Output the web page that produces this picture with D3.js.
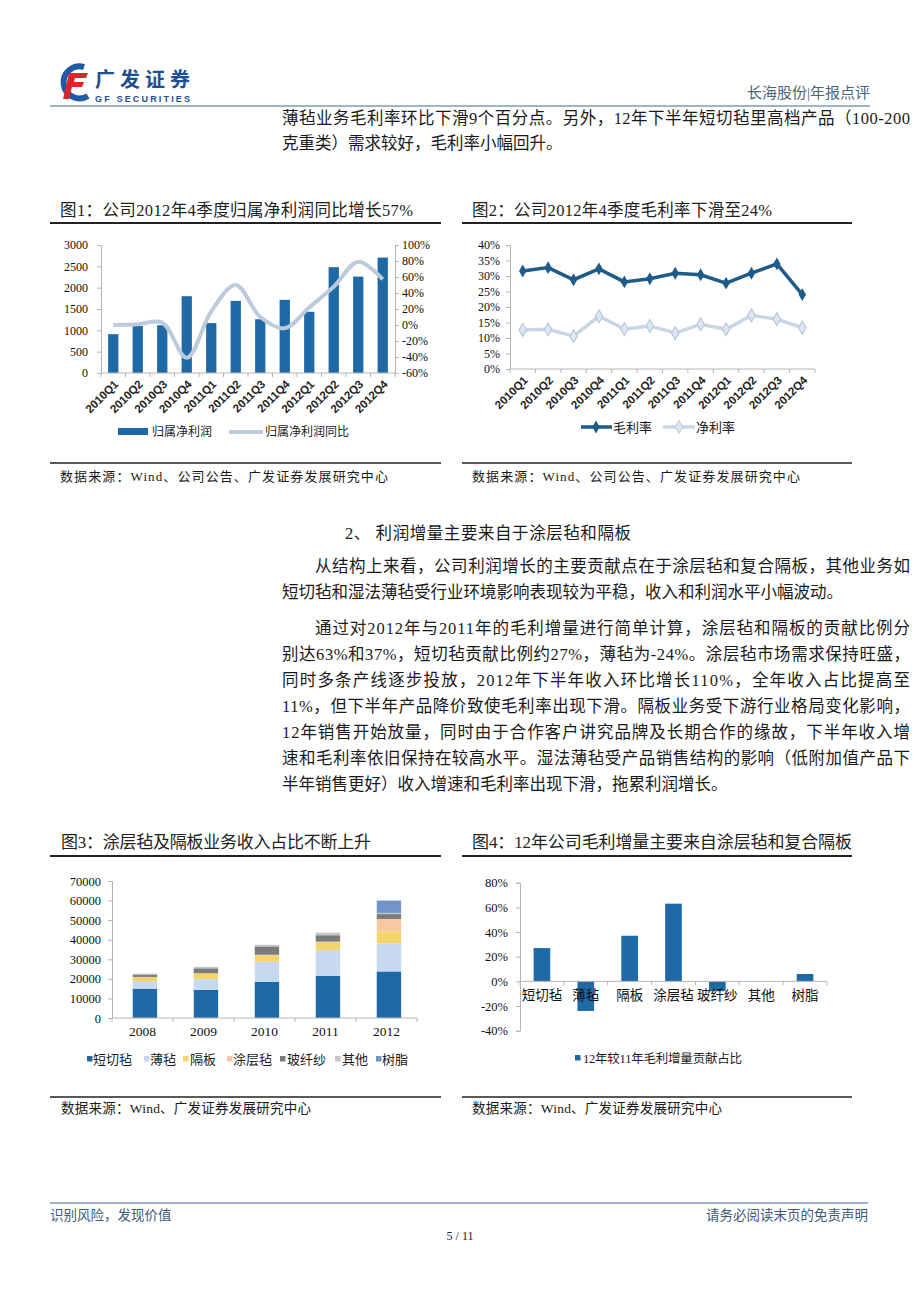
<!DOCTYPE html>
<html><head><meta charset="utf-8">
<script src="https://cdn.jsdelivr.net/npm/d3@7/dist/d3.min.js"></script>
<style>body{margin:0;background:#fff}svg{display:block}</style>
</head><body><svg id="page" width="920" height="1301"></svg>
<script>
// ---------- DATA ----------
const quarters = ['2010Q1','2010Q2','2010Q3','2010Q4','2011Q1','2011Q2','2011Q3','2011Q4','2012Q1','2012Q2','2012Q3','2012Q4'];
const netProfit = [910, 1100, 1120, 1800, 1170, 1690, 1260, 1715, 1435, 2480, 2260, 2705];
const netProfitYoY = [0, 1, 3, -41, 17, 50, 10, -4, 22, 48, 79, 57];
const leftTicks1 = [0, 500, 1000, 1500, 2000, 2500, 3000];
const rightTicks1 = [-60, -40, -20, 0, 20, 40, 60, 80, 100];

const grossMargin = [31.6, 32.7, 28.8, 32.3, 28.1, 29.1, 30.9, 30.4, 27.7, 30.9, 33.9, 24.0];
const netMargin = [12.6, 12.8, 10.6, 17.0, 12.9, 13.9, 11.6, 14.4, 12.8, 17.3, 16.1, 13.3];
const ticks2 = [0, 5, 10, 15, 20, 25, 30, 35, 40];

const years = ['2008','2009','2010','2011','2012'];
const segments = ['短切毡','薄毡','隔板','涂层毡','玻纤纱','其他','树脂'];
const choppedMat = [15000, 14400, 18500, 21500, 23800];
const thinMat = [3800, 5400, 10300, 13200, 14300];
const separator = [2200, 3100, 3200, 4000, 6000];
const coatedMat = [0, 0, 300, 300, 6500];
const glassYarn = [1200, 2500, 4300, 3300, 2500];
const others = [500, 700, 800, 1300, 600];
const resin = [0, 0, 0, 0, 6300];
const ticks3 = [0, 10000, 20000, 30000, 40000, 50000, 60000, 70000];

const contribCats = ['短切毡','薄毡','隔板','涂层毡','玻纤纱','其他','树脂'];
const contribShare = [27, -24, 37, 63, -8, 0, 6];
const ticks4 = [-40, -20, 0, 20, 40, 60, 80];

// ---------- HELPERS ----------
const svg = d3.select('#page');
const SERIF = '"Liberation Serif","Noto Sans CJK SC",serif';
const SANS = 'Arial,"Liberation Sans",sans-serif';
const BLUE = '#1f6aa6';
const AXIS = '#b5b5b5';
function txt(x, y, s, o = {}) {
  const t = svg.append('text').attr('x', x).attr('y', y).text(s)
    .style('font-family', o.family || SERIF).style('font-size', (o.size || 16) + 'px')
    .attr('fill', o.fill || '#1a1a1a');
  if (o.anchor) t.attr('text-anchor', o.anchor);
  if (o.len) t.attr('textLength', o.len).attr('lengthAdjust', 'spacing');
  if (o.weight) t.style('font-weight', o.weight);
  return t;
}
function hline(x1, x2, y, color, w) {
  svg.append('line').attr('x1', x1).attr('x2', x2).attr('y1', y).attr('y2', y)
    .attr('stroke', color).attr('stroke-width', w);
}
function styleAxis(g, size) {
  g.select('.domain').attr('stroke', AXIS);
  g.selectAll('.tick line').attr('stroke', AXIS);
  g.selectAll('.tick text').style('font-family', SERIF).style('font-size', (size || 12) + 'px').attr('fill', '#111');
}
function catTicks(xs, y, len) {
  const n = xs.domain().length;
  const r = xs.range();
  for (let i = 0; i <= n; i++) {
    const x = r[0] + i * xs.step();
    svg.append('line').attr('x1', x).attr('x2', x).attr('y1', y).attr('y2', y + len).attr('stroke', AXIS);
  }
  svg.append('line').attr('x1', r[0]).attr('x2', r[1]).attr('y1', y).attr('y2', y).attr('stroke', AXIS);
}

// ---------- HEADER ----------
svg.append('path').attr('d', 'M84,67 A16,16 0 1,0 88,96').attr('fill', 'none').attr('stroke', '#1e5aa5').attr('stroke-width', 6);
svg.append('path').attr('d', 'M69,73 L88,73 L86,78 L75,78 L74,82 L84,82 L82,87 L72,87 L69,99 L63,99 Z').attr('fill', '#d9262a');
txt(95, 87, '广发证券', { family: '"Noto Sans CJK SC",sans-serif', size: 20, fill: '#1d4f91', weight: 'bold', len: 95 });
txt(95, 102, 'GF SECURITIES', { family: SANS, size: 9, fill: '#1d4f91', weight: 'bold', len: 95 });
txt(870, 98, '长海股份|年报点评', { size: 15, fill: '#4d6277', anchor: 'end' });
hline(50, 870, 106, '#7f9bb5', 1.5);

// top body text
const BODY = 16.5;
txt(282, 124, '薄毡业务毛利率环比下滑9个百分点。另外，12年下半年短切毡里高档产品（100-200', { size: BODY, len: 628 });
txt(282, 149, '克重类）需求较好，毛利率小幅回升。', { size: BODY });

// ---------- CHART 1 ----------
txt(60, 216, '图1：公司2012年4季度归属净利润同比增长57%', { size: 16.5, fill: '#222', len: 353 });
hline(50, 441, 223, '#222', 2);
const x1 = d3.scaleBand().domain(quarters).range([101, 395]);
const yL = d3.scaleLinear().domain([0, 3000]).range([373, 245]);
const yR = d3.scaleLinear().domain([-60, 100]).range([373, 245]);
svg.append('g').attr('transform', 'translate(101,0)')
  .call(d3.axisLeft(yL).tickValues(leftTicks1).tickSize(4).tickPadding(9).tickFormat(d => d))
  .call(g => styleAxis(g, 12));
svg.append('g').attr('transform', 'translate(395,0)')
  .call(d3.axisRight(yR).tickValues(rightTicks1).tickSize(4).tickPadding(3).tickFormat(d => d + '%'))
  .call(g => styleAxis(g, 12));
svg.append('g').selectAll('rect').data(quarters).join('rect')
  .attr('x', q => x1(q) + x1.bandwidth() * 0.29).attr('width', x1.bandwidth() * 0.42)
  .attr('y', (q, i) => yL(netProfit[i])).attr('height', (q, i) => yL(0) - yL(netProfit[i]))
  .attr('fill', BLUE);
catTicks(x1, 373, 4);
svg.append('g').attr('transform', 'translate(0,373)')
  .call(d3.axisBottom(x1).tickSize(0).tickPadding(0))
  .call(g => {
    g.select('.domain').remove();
    g.selectAll('.tick text').attr('x', 0).attr('y', 0).attr('dy', '0.35em')
      .attr('transform', 'translate(3,9) rotate(-45)').style('text-anchor', 'end')
      .style('font-family', SANS).style('font-size', '11.5px').style('font-weight', 'bold').attr('fill', '#222');
  });
const line1 = d3.line().x((d, i) => x1(quarters[i]) + x1.bandwidth() / 2).y(d => yR(d)).curve(d3.curveCatmullRom.alpha(0.5));
svg.append('path').datum(netProfitYoY).attr('d', line1).attr('fill', 'none').attr('stroke', '#bccadb').attr('stroke-width', 4);
svg.append('rect').attr('x', 118).attr('y', 428).attr('width', 30).attr('height', 7).attr('fill', BLUE);
txt(152, 436, '归属净利润', { size: 12 });
hline(229, 263, 432, '#bccadb', 4);
txt(265, 436, '归属净利润同比', { size: 12 });
hline(50, 441, 463, '#222', 1.5);
txt(60, 481, '数据来源：Wind、公司公告、广发证券发展研究中心', { size: 13, len: 328 });

// ---------- CHART 2 ----------
txt(472, 216, '图2：公司2012年4季度毛利率下滑至24%', { size: 16.5, fill: '#222', len: 300 });
hline(462, 852, 223, '#222', 2);
const x2 = d3.scaleBand().domain(quarters).range([510, 815]);
const y2 = d3.scaleLinear().domain([0, 40]).range([369, 245]);
svg.append('g').attr('transform', 'translate(510,0)')
  .call(d3.axisLeft(y2).tickValues(ticks2).tickSize(4).tickPadding(6).tickFormat(d => d + '%'))
  .call(g => styleAxis(g, 12));
catTicks(x2, 369, 4);
svg.append('g').attr('transform', 'translate(0,369)')
  .call(d3.axisBottom(x2).tickSize(0).tickPadding(0))
  .call(g => {
    g.select('.domain').remove();
    g.selectAll('.tick text').attr('x', 0).attr('y', 0).attr('dy', '0.35em')
      .attr('transform', 'translate(3,9) rotate(-45)').style('text-anchor', 'end')
      .style('font-family', SANS).style('font-size', '11.5px').style('font-weight', 'bold').attr('fill', '#222');
  });
const cx2 = (d, i) => x2(quarters[i]) + x2.bandwidth() / 2;
const line2 = d3.line().x(cx2).y(d => y2(d));
const diamond = d3.symbol(d3.symbolDiamond, 48);
svg.append('path').datum(netMargin).attr('d', line2).attr('fill', 'none').attr('stroke', '#c9d6e6').attr('stroke-width', 3.5);
svg.append('g').selectAll('path').data(netMargin).join('path').attr('d', diamond)
  .attr('transform', (d, i) => `translate(${cx2(d, i)},${y2(d)})`).attr('fill', '#dde6f1').attr('stroke', '#b9c9dc').attr('stroke-width', 1.2);
svg.append('path').datum(grossMargin).attr('d', line2).attr('fill', 'none').attr('stroke', '#1f5b88').attr('stroke-width', 3.5);
svg.append('g').selectAll('path').data(grossMargin).join('path').attr('d', diamond)
  .attr('transform', (d, i) => `translate(${cx2(d, i)},${y2(d)})`).attr('fill', '#1f5b88');
hline(581, 612, 427, '#1f5b88', 3.5);
svg.append('path').attr('d', diamond).attr('transform', 'translate(596,427)').attr('fill', '#1f5b88');
txt(613, 432, '毛利率', { size: 13 });
hline(663, 695, 427, '#c9d6e6', 3.5);
svg.append('path').attr('d', diamond).attr('transform', 'translate(679,427)').attr('fill', '#dde6f1').attr('stroke', '#b9c9dc');
txt(696, 432, '净利率', { size: 13 });
hline(462, 852, 463, '#222', 1.5);
txt(472, 481, '数据来源：Wind、公司公告、广发证券发展研究中心', { size: 13, len: 328 });

// ---------- MIDDLE TEXT ----------
txt(345, 539, '2、 利润增量主要来自于涂层毡和隔板', { size: 16.5, len: 286 });
const paraLines = [
  [315, 572, '从结构上来看，公司利润增长的主要贡献点在于涂层毡和复合隔板，其他业务如', 595],
  [282, 598, '短切毡和湿法薄毡受行业环境影响表现较为平稳，收入和利润水平小幅波动。', 0],
  [315, 634, '通过对2012年与2011年的毛利增量进行简单计算，涂层毡和隔板的贡献比例分', 595],
  [282, 660, '别达63%和37%，短切毡贡献比例约27%，薄毡为-24%。涂层毡市场需求保持旺盛，', 628],
  [282, 686, '同时多条产线逐步投放，2012年下半年收入环比增长110%，全年收入占比提高至', 628],
  [282, 712, '11%，但下半年产品降价致使毛利率出现下滑。隔板业务受下游行业格局变化影响，', 628],
  [282, 738, '12年销售开始放量，同时由于合作客户讲究品牌及长期合作的缘故，下半年收入增', 628],
  [282, 764, '速和毛利率依旧保持在较高水平。湿法薄毡受产品销售结构的影响（低附加值产品下', 628],
  [282, 790, '半年销售更好）收入增速和毛利率出现下滑，拖累利润增长。', 0]
];
paraLines.forEach(([x, y, s, len]) => txt(x, y, s, len ? { size: BODY, len } : { size: BODY }));

// ---------- CHART 3 ----------
txt(61, 848, '图3：涂层毡及隔板业务收入占比不断上升', { size: 17, fill: '#222', len: 310 });
hline(50, 441, 856, '#222', 2);
const x3 = d3.scaleBand().domain(years).range([112, 417]);
const y3 = d3.scaleLinear().domain([0, 70000]).range([1018, 881]);
const segColors = ['#1f6aa6', '#c6d9ef', '#f3d46a', '#f8c8a0', '#7b7b7b', '#c6c6c6', '#7394c9'];
const segSeries = [choppedMat, thinMat, separator, coatedMat, glassYarn, others, resin];
const table3 = years.map((y, i) => { const o = { year: y }; segments.forEach((s, k) => o[s] = segSeries[k][i]); return o; });
const stacked = d3.stack().keys(segments)(table3);
svg.append('g').attr('transform', 'translate(112,0)')
  .call(d3.axisLeft(y3).tickValues(ticks3).tickSize(4).tickPadding(7).tickFormat(d => d))
  .call(g => styleAxis(g, 12.5));
svg.append('g').selectAll('g').data(stacked).join('g').attr('fill', (d, i) => segColors[i])
  .selectAll('rect').data(d => d).join('rect')
  .attr('x', d => x3(d.data.year) + x3.bandwidth() * 0.34).attr('width', x3.bandwidth() * 0.4)
  .attr('y', d => y3(d[1])).attr('height', d => y3(d[0]) - y3(d[1]));
catTicks(x3, 1018, 4);
svg.append('g').attr('transform', 'translate(0,1018)')
  .call(d3.axisBottom(x3).tickSize(0).tickPadding(8))
  .call(g => { g.select('.domain').remove(); styleAxis(g, 13.5); });
const leg3 = [[87, 93], [144, 150], [183, 190], [227, 233], [280, 287], [335, 342], [376, 382]];
segments.forEach((s, i) => {
  svg.append('rect').attr('x', leg3[i][0]).attr('y', 1056).attr('width', 5.5).attr('height', 5.5).attr('fill', segColors[i]);
  txt(leg3[i][1], 1064, s, { size: 13 });
});
hline(50, 441, 1097, '#222', 1.5);
txt(61, 1113, '数据来源：Wind、广发证券发展研究中心', { size: 13.5, len: 250 });

// ---------- CHART 4 ----------
txt(472, 848, '图4：12年公司毛利增量主要来自涂层毡和复合隔板', { size: 17, fill: '#222', len: 380 });
hline(462, 852, 856, '#222', 2);
const x4 = d3.scaleBand().domain(contribCats).range([520, 827]);
const y4 = d3.scaleLinear().domain([-40, 80]).range([1030.7, 882.7]);
svg.append('g').attr('transform', 'translate(520,0)')
  .call(d3.axisLeft(y4).tickValues(ticks4).tickSize(4).tickPadding(8).tickFormat(d => d + '%'))
  .call(g => styleAxis(g, 12.5));
svg.append('g').selectAll('rect').data(contribCats).join('rect')
  .attr('x', c => x4(c) + x4.bandwidth() * 0.31).attr('width', x4.bandwidth() * 0.38)
  .attr('y', (c, i) => y4(Math.max(0, contribShare[i])))
  .attr('height', (c, i) => Math.abs(y4(contribShare[i]) - y4(0)))
  .attr('fill', BLUE);
catTicks(x4, y4(0), 4);
svg.append('g').attr('transform', `translate(0,${y4(0)})`)
  .call(d3.axisBottom(x4).tickSize(0).tickPadding(9))
  .call(g => { g.select('.domain').remove(); styleAxis(g, 13.5); });
svg.append('rect').attr('x', 575).attr('y', 1055).attr('width', 5.5).attr('height', 5.5).attr('fill', BLUE);
txt(583, 1063, '12年较11年毛利增量贡献占比', { size: 12.5, len: 159 });
hline(462, 852, 1097, '#222', 1.5);
txt(472, 1113, '数据来源：Wind、广发证券发展研究中心', { size: 13.5, len: 250 });

// ---------- FOOTER ----------
hline(50, 868, 1203, '#7f9bb5', 1.5);
txt(50, 1220, '识别风险，发现价值', { size: 13.5, fill: '#3f5a77' });
txt(868, 1220, '请务必阅读末页的免责声明', { size: 13.5, fill: '#3f5a77', anchor: 'end' });
txt(460, 1240, '5 / 11', { size: 12, fill: '#222', anchor: 'middle' });
</script></body></html>
